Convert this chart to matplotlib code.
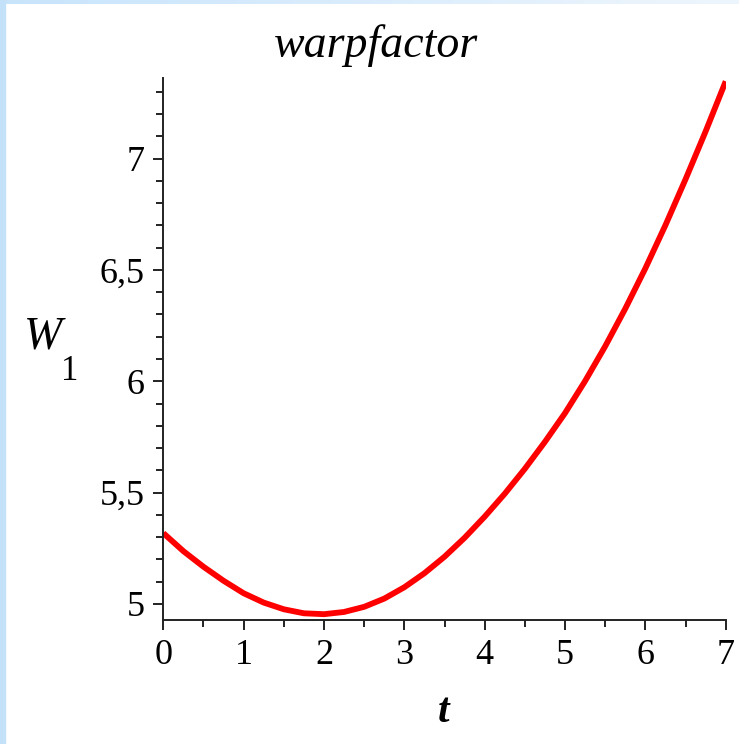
import numpy as np
import matplotlib.pyplot as plt
from matplotlib.ticker import MultipleLocator, FuncFormatter
from matplotlib.patches import Rectangle

# values
t = [0, 0.25, 0.5, 0.75, 1, 1.25, 1.5, 1.75, 2, 2.25, 2.5, 2.75, 3, 3.25, 3.5,
     3.75, 4, 4.25, 4.5, 4.75, 5, 5.25, 5.5, 5.75, 6, 6.25, 6.5, 6.75, 7]
W1 = [5.318, 5.237, 5.167, 5.104, 5.048, 5.006, 4.976, 4.958, 4.954, 4.964, 4.987,
      5.024, 5.075, 5.138, 5.212, 5.297, 5.392, 5.495, 5.607, 5.728, 5.857, 6.001,
      6.157, 6.326, 6.507, 6.701, 6.907, 7.122, 7.347]
x_ticks = [0, 1, 2, 3, 4, 5, 6, 7]
y_ticks = [5, 5.5, 6, 6.5, 7]

plt.rcParams['font.family'] = ['Liberation Serif', 'DejaVu Serif']

fig = plt.figure(figsize=(7.39, 7.44), dpi=100)
ax = fig.add_axes([0.221, 0.1667, 0.761, 0.7285])

ax.plot(t, W1, color='#ff0000', lw=4.2, solid_capstyle='butt')
ax.set_xlim(0, 7)
ax.set_ylim(4.928, 7.362)

for s in ['top', 'right']:
    ax.spines[s].set_visible(False)
for s in ['left', 'bottom']:
    ax.spines[s].set_linewidth(1.4)
    ax.spines[s].set_color('#222222')

ax.set_xticks(x_ticks)
ax.set_yticks(y_ticks)
ax.xaxis.set_minor_locator(MultipleLocator(0.5))
ax.yaxis.set_minor_locator(MultipleLocator(0.1))
ax.yaxis.set_major_formatter(FuncFormatter(lambda v, p: ('%g' % v).replace('.', ',')))
ax.tick_params(which='major', length=7.5, width=1.4, labelsize=26, pad=6, color='#222222')
ax.tick_params(which='minor', length=5, width=1.4, color='#222222')

fig.text(0.509, 0.924, 'warpfactor', fontsize=33, style='italic', ha='center', va='baseline')
fig.text(0.6, 0.03, 't', fontsize=30, style='italic', weight='bold', ha='center', va='baseline')
fig.text(0.032, 0.532, 'W', fontsize=33, style='italic', ha='left', va='baseline')
fig.text(0.083, 0.489, '1', fontsize=25, ha='left', va='baseline')

# light blue frame strips on the left and top edge
fig.patches.append(Rectangle((0, 0), 5 / 739, 1, transform=fig.transFigure,
                             color='#c3e2fa', zorder=0))
grad = np.linspace(0, 1, 256).reshape(1, -1)
gax = fig.add_axes([5 / 739, 1 - 4 / 744, 1 - 5 / 739, 4 / 744])
gax.imshow(grad, aspect='auto', cmap=plt.matplotlib.colors.LinearSegmentedColormap.from_list(
    'edge', ['#c8e4fb', '#eef6fd']))
gax.axis('off')

fig.savefig('out.png', dpi=100)
